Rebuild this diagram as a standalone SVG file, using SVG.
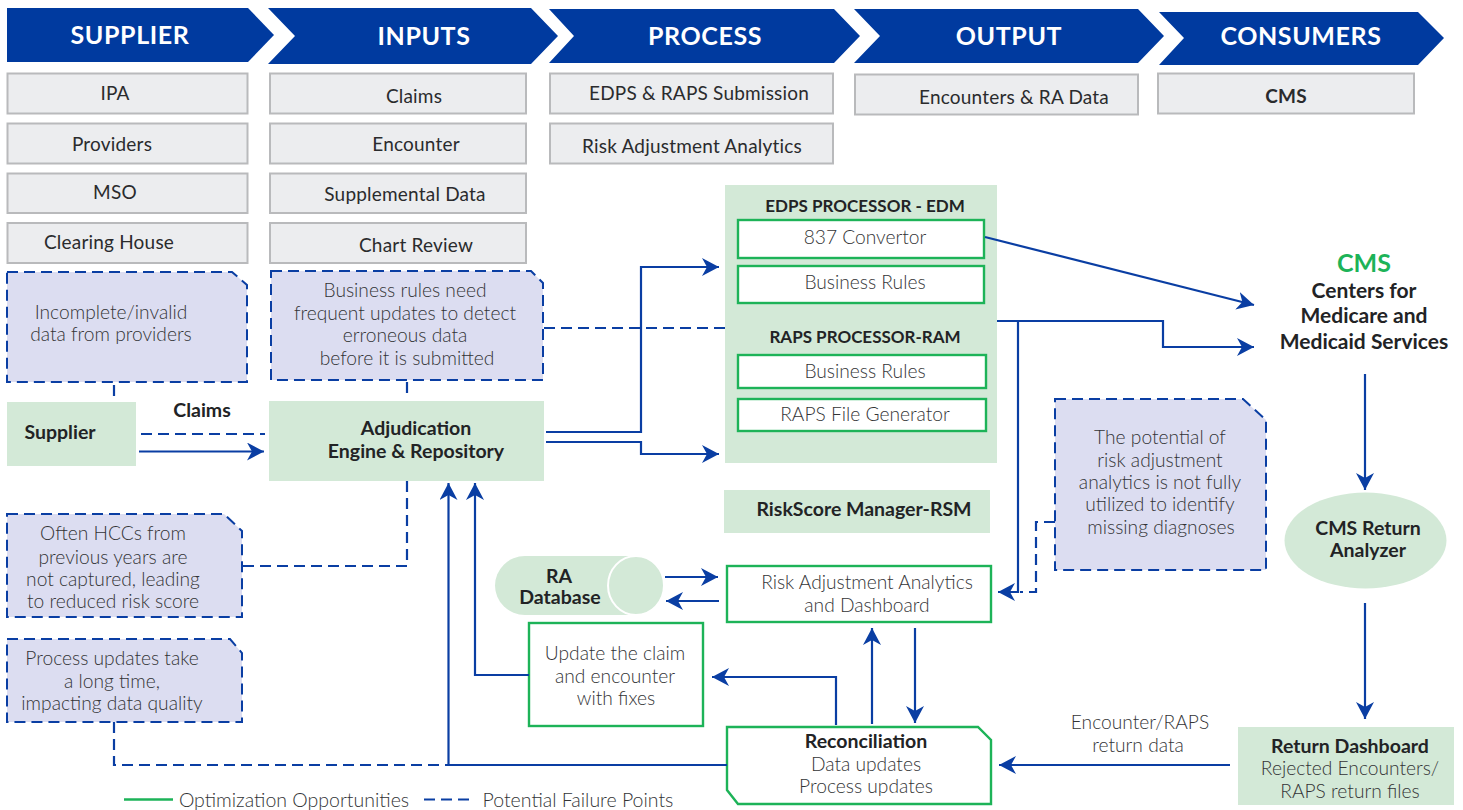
<svg xmlns="http://www.w3.org/2000/svg" width="1463" height="810" viewBox="0 0 1463 810">
<style>
text{font-family:"Lato","Noto Sans","Liberation Sans",sans-serif;text-anchor:middle;fill:#333436;transform:translateY(.8px)}
.hd{fill:#003a9f}
.hdt{fill:#fff;font-size:25px;font-weight:700;letter-spacing:.6px}
.gb{fill:#ecedef;stroke:#b9babc;stroke-width:2}
.gt{font-size:19px;fill:#2a2b2d;letter-spacing:.2px}
.note{fill:#dcddf1;stroke:#0a3ea3;stroke-width:2;stroke-dasharray:11 6}
.lt{font-size:19.2px;font-weight:300;fill:#333436}
.bd{font-size:19.500px;font-weight:700;fill:#222325}
.gf{fill:#d3e9d7}
.wb{fill:#fff;stroke:#1db358;stroke-width:2.4}
.c{fill:none;stroke:#0a3ea3;stroke-width:2.2}
.d{fill:none;stroke:#0a3ea3;stroke-width:2.2;stroke-dasharray:11 6}
</style>
<defs>
<marker id="a" markerUnits="userSpaceOnUse" markerWidth="20" markerHeight="20" refX="17" refY="9" orient="auto">
<path d="M0 0L17 9L0 18L5 9Z" fill="#0a3ea3"/>
</marker>
</defs>
<g id="hdr-supplier"><path class="hd" d="M7 8H248L274 35L248 62H7Z"/><text class="hdt" x="130" y="43">SUPPLIER</text></g>
<g id="hdr-inputs"><path class="hd" d="M268 8H531L558 36L531 64H268L295 36Z"/><text class="hdt" x="424" y="44">INPUTS</text></g>
<g id="hdr-process"><path class="hd" d="M549 9H834L860 36L834 63H549L574 36Z"/><text class="hdt" x="705" y="44">PROCESS</text></g>
<g id="hdr-output"><path class="hd" d="M854 9H1138L1164 36L1138 63H854L880 36Z"/><text class="hdt" x="1009" y="44">OUTPUT</text></g>
<g id="hdr-consumers"><path class="hd" d="M1159 12H1418L1444 38L1418 65H1159L1184 38Z"/><text class="hdt" x="1301" y="44">CONSUMERS</text></g>
<g id="s-ipa"><rect class="gb" x="7.500" y="73.500" width="240" height="40"/><text class="gt" x="115" y="99">IPA</text></g>
<g id="s-providers"><rect class="gb" x="7.500" y="123.500" width="240" height="40"/><text class="gt" x="112" y="150">Providers</text></g>
<g id="s-mso"><rect class="gb" x="7.500" y="173.500" width="240" height="39.500"/><text class="gt" x="115" y="198">MSO</text></g>
<g id="s-clearing"><rect class="gb" x="7.500" y="223" width="240" height="40"/><text class="gt" x="109" y="248">Clearing House</text></g>
<g id="i-claims"><rect class="gb" x="270" y="73.500" width="256" height="40"/><text class="gt" x="414" y="102">Claims</text></g>
<g id="i-encounter"><rect class="gb" x="270" y="123.500" width="256" height="40"/><text class="gt" x="416" y="150">Encounter</text></g>
<g id="i-supp"><rect class="gb" x="270" y="173.500" width="256" height="39.500"/><text class="gt" x="405" y="200">Supplemental Data</text></g>
<g id="i-chart"><rect class="gb" x="270" y="223" width="256" height="40"/><text class="gt" x="416" y="251">Chart Review</text></g>
<g id="p-edps"><rect class="gb" x="550" y="73.500" width="283" height="40"/><text class="gt" x="699" y="99">EDPS &amp; RAPS Submission</text></g>
<g id="p-risk"><rect class="gb" x="550" y="123.500" width="283" height="40"/><text class="gt" x="692" y="152">Risk Adjustment Analytics</text></g>
<g id="o-enc"><rect class="gb" x="855" y="74.500" width="283" height="40"/><text class="gt" x="1014" y="103">Encounters &amp; RA Data</text></g>
<g id="c-cms"><rect class="gb" x="1158" y="73.500" width="256" height="40"/><text class="gt" x="1286" y="102" font-weight="700">CMS</text></g>
<g id="n-incomplete"><path class="note" d="M7 272H232L247 285V382H7Z"/><text class="lt" x="111" y="318">Incomplete/invalid</text><text class="lt" x="111" y="340">data from providers</text></g>
<g id="n-business"><path class="note" d="M271 271H531L543 283V380H271Z"/><text class="lt" x="405" y="296">Business rules need</text><text class="lt" x="405" y="319">frequent updates to detect</text><text class="lt" x="405" y="341">erroneous data</text><text class="lt" x="407" y="364">before it is submitted</text></g>
<g id="n-hcc"><path class="note" d="M7 514H224L242 531V617H7Z"/><text class="lt" x="113" y="539">Often HCCs from</text><text class="lt" x="113" y="563">previous years are</text><text class="lt" x="113" y="585">not captured, leading</text><text class="lt" x="113" y="607">to reduced risk score</text></g>
<g id="n-process"><path class="note" d="M7 639H230L242 653V722H7Z"/><text class="lt" x="112" y="664">Process updates take</text><text class="lt" x="112" y="687">a long time,</text><text class="lt" x="112" y="709">impacting data quality</text></g>
<g id="n-potential"><path class="note" d="M1055 399H1243L1266 420V570H1055Z"/><text class="lt" x="1160" y="443">The potential of</text><text class="lt" x="1160" y="466">risk adjustment</text><text class="lt" x="1160" y="488">analytics is not fully</text><text class="lt" x="1160" y="510">utilized to identify</text><text class="lt" x="1161" y="533">missing diagnoses</text></g>
<g id="supplier"><rect class="gf" x="7" y="402" width="129" height="64"/><text class="bd" x="60" y="438">Supplier</text></g>
<g id="claims-label"><text class="bd" x="202" y="416">Claims</text></g>
<g id="adjudication"><rect class="gf" x="269" y="401" width="275" height="80"/><text class="bd" x="416" y="434">Adjudication</text><text class="bd" x="416" y="457">Engine &amp; Repository</text></g>
<g id="processors"><rect class="gf" x="725" y="185" width="272" height="278"/>
<text class="bd" x="865" y="211" style="font-size:17px">EDPS PROCESSOR - EDM</text>
<rect class="wb" x="738" y="220" width="246" height="38"/><text class="lt" x="865" y="243">837 Convertor</text>
<rect class="wb" x="738" y="266" width="246" height="37"/><text class="lt" x="865" y="288">Business Rules</text>
<text class="bd" x="865" y="342" style="font-size:17px">RAPS PROCESSOR-RAM</text>
<rect class="wb" x="738" y="355" width="248" height="33"/><text class="lt" x="865" y="377">Business Rules</text>
<rect class="wb" x="738" y="399" width="248" height="32"/><text class="lt" x="865" y="420">RAPS File Generator</text></g>
<g id="riskscore"><rect class="gf" x="724" y="490" width="266" height="43"/><text class="bd" x="864" y="515">RiskScore Manager-RSM</text></g>
<g id="ra-database"><path class="gf" d="M525 556H635A28 29.500 0 0 1 635 615H525A30 29.500 0 0 1 525 556Z"/><ellipse cx="636" cy="585.500" rx="28" ry="29.500" fill="#d3e9d7" stroke="#fff" stroke-width="2"/><text class="bd" x="559" y="582">RA</text><text class="bd" x="560" y="603">Database</text></g>
<g id="analytics"><rect class="wb" x="727" y="566" width="264" height="56"/><text class="lt" x="867" y="588">Risk Adjustment Analytics</text><text class="lt" x="867" y="611">and Dashboard</text></g>
<g id="update"><rect class="wb" x="529" y="623" width="174" height="103"/><text class="lt" x="615" y="659">Update the claim</text><text class="lt" x="615" y="682">and encounter</text><text class="lt" x="616" y="704">with fixes</text></g>
<g id="reconciliation"><path class="wb" d="M727 727H978L991 740V804H738L727 790Z"/><text class="bd" x="866" y="747">Reconciliation</text><text class="lt" x="866" y="770">Data updates</text><text class="lt" x="866" y="792">Process updates</text></g>
<g id="cms"><text x="1364" y="271" style="font-size:25px;font-weight:700;fill:#1db358">CMS</text><text class="bd" x="1364" y="297" style="font-size:21px">Centers for</text><text class="bd" x="1364" y="322" style="font-size:21px">Medicare and</text><text class="bd" x="1364" y="348" style="font-size:21px">Medicaid Services</text></g>
<g id="return-analyzer"><ellipse class="gf" cx="1365.500" cy="540.500" rx="81" ry="48"/><text class="bd" x="1368" y="534">CMS Return</text><text class="bd" x="1368" y="556">Analyzer</text></g>
<g id="return-dashboard"><rect class="gf" x="1238" y="727" width="216" height="78"/><text class="bd" x="1350" y="752">Return Dashboard</text><text class="lt" x="1350" y="774">Rejected Encounters/</text><text class="lt" x="1350" y="797">RAPS return files</text></g>
<g id="return-label"><text class="lt" x="1140" y="728">Encounter/RAPS</text><text class="lt" x="1138" y="751">return data</text></g>
<g id="legend"><path d="M124 799.500H173" stroke="#1db358" stroke-width="2.400"/><text class="lt" x="294" y="806" style="font-size:19.500px">Optimization Opportunities</text><path class="d" d="M424 799.500H473"/><text class="lt" x="578" y="806" style="font-size:19.500px">Potential Failure Points</text></g>
<g id="connectors">
<path class="d" d="M114 385V397"/>
<path class="d" d="M407 382V394"/>
<path class="d" d="M141 434H265"/>
<path class="c" marker-end="url(#a)" d="M139 451.500H264"/>
<path class="d" d="M407 481V566H243"/>
<path class="d" d="M114 722V765H727"/>
<path class="c" marker-end="url(#a)" d="M727 765H448.500V483"/>
<path class="c" marker-end="url(#a)" d="M529 675H475V483"/>
<path class="c" marker-end="url(#a)" d="M546 432H641V267H719"/>
<path class="c" marker-end="url(#a)" d="M546 442H641V454H719"/>
<path class="d" d="M544 328H725"/>
<path class="c" marker-end="url(#a)" d="M985 237L1254 305"/>
<path class="c" marker-end="url(#a)" d="M997 321H1163V347H1254"/>
<path class="c" marker-end="url(#a)" d="M1018 321V592H998"/>
<path class="d" d="M1055 522H1036V592H1020"/>
<path class="c" marker-end="url(#a)" d="M665 577H718"/>
<path class="c" marker-end="url(#a)" d="M719 601H666"/>
<path class="c" marker-end="url(#a)" d="M836 725V677H712"/>
<path class="c" marker-end="url(#a)" d="M872 724V628"/>
<path class="c" marker-end="url(#a)" d="M915 628V723"/>
<path class="c" marker-end="url(#a)" d="M1365 374V490"/>
<path class="c" marker-end="url(#a)" d="M1365 603V719"/>
<path class="c" marker-end="url(#a)" d="M1230 765H999"/>
</g>
</svg>
